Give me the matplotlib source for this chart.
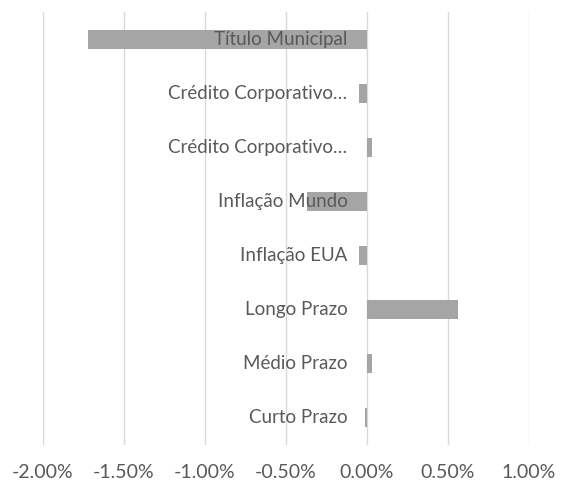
import matplotlib
matplotlib.use("Agg")
import matplotlib.pyplot as plt
from matplotlib.ticker import FuncFormatter

categories = [
    "Curto Prazo",
    "Médio Prazo",
    "Longo Prazo",
    "Inflação EUA",
    "Inflação Mundo",
    "Crédito Corporativo…",
    "Crédito Corporativo…",
    "Título Municipal",
]
values = [-0.0001, 0.0003, 0.0056, -0.0005, -0.0037, 0.0003, -0.0005, -0.0172]
x_ticks = [-0.02, -0.015, -0.01, -0.005, 0.0, 0.005, 0.01]

text_color = "#595959"
plt.rcParams["font.family"] = ["Lato", "DejaVu Sans"]

fig = plt.figure(figsize=(5.61, 4.87), dpi=100)
ax = fig.add_axes([43 / 561, 1 - 445 / 487, (529 - 43) / 561, 433 / 487])

pos = list(range(len(categories)))
ax.barh(pos, values, height=0.35, color="#A5A5A5", zorder=2)

# category labels sit just left of the zero line, over the bars
for p, name in zip(pos, categories):
    ax.annotate(name, xy=(0, p), xytext=(-14, 0), textcoords="offset points",
                ha="right", va="center", fontsize=13.5, color=text_color,
                zorder=3)

ax.set_xlim(-0.02, 0.01)
ax.set_ylim(-0.5, len(categories) - 0.5)
ax.set_xticks(x_ticks)
ax.xaxis.set_major_formatter(FuncFormatter(lambda v, _: f"{v * 100:.2f}%"))
ax.set_yticks([])
ax.tick_params(axis="x", length=0, pad=14, labelsize=14, labelcolor=text_color)
ax.grid(axis="x", color="#D9D9D9", linewidth=1, zorder=0)
for s in ax.spines.values():
    s.set_visible(False)

fig.savefig("out.png", dpi=100)
